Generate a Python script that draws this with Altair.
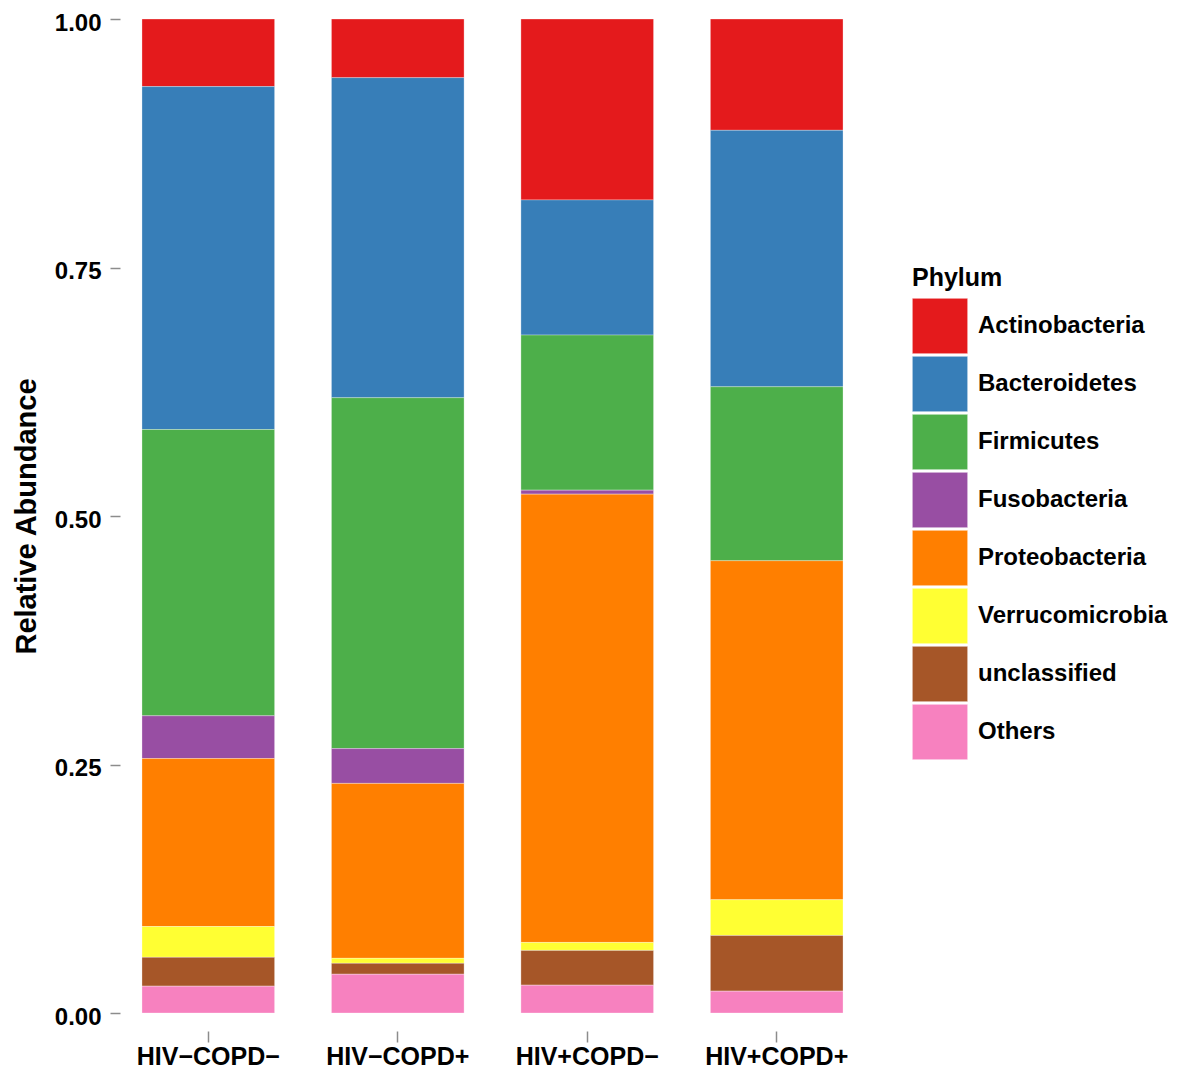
import altair as alt
import pandas as pd

groups = ["HIV−COPD−", "HIV−COPD+", "HIV+COPD−", "HIV+COPD+"]
phyla = ["Actinobacteria", "Bacteroidetes", "Firmicutes", "Fusobacteria",
         "Proteobacteria", "Verrucomicrobia", "unclassified", "Others"]
colors = ["#E41A1C", "#377EB8", "#4DAF4A", "#984EA3",
          "#FF7F00", "#FFFF33", "#A65628", "#F781BF"]

actinobacteria = [0.068, 0.059, 0.182, 0.112]
bacteroidetes = [0.345, 0.322, 0.136, 0.258]
firmicutes = [0.288, 0.353, 0.156, 0.175]
fusobacteria = [0.043, 0.035, 0.004, 0.0]
proteobacteria = [0.169, 0.176, 0.451, 0.341]
verrucomicrobia = [0.031, 0.005, 0.008, 0.036]
unclassified = [0.029, 0.011, 0.035, 0.056]
others = [0.027, 0.039, 0.028, 0.022]

series = [actinobacteria, bacteroidetes, firmicutes, fusobacteria,
          proteobacteria, verrucomicrobia, unclassified, others]

rows = []
for pi, (name, vals) in enumerate(zip(phyla, series)):
    for g, v in zip(groups, vals):
        if v > 0:
            rows.append({"group": g, "Phylum": name, "value": v, "ord": pi})
df = pd.DataFrame(rows)

FONT = "Liberation Sans"

chart = alt.Chart(df).mark_bar(
    stroke="white", strokeWidth=0.5, strokeOpacity=0.6, opacity=1
).encode(
    x=alt.X("group:N", sort=groups,
            scale=alt.Scale(paddingInner=0.3, paddingOuter=0.116),
            axis=alt.Axis(title=None, labelAngle=0, offset=18, tickSize=11,
                          tickColor="#8c8c8c", tickWidth=1.5, domain=False,
                          labelPadding=2, labelFont=FONT, labelFontSize=25,
                          labelFontWeight="bold", labelColor="black")),
    y=alt.Y("value:Q", stack="zero",
            scale=alt.Scale(domain=[0, 1], nice=False),
            axis=alt.Axis(title="Relative Abundance", values=[0, 0.25, 0.5, 0.75, 1],
                          format=".2f", grid=False, domain=False, tickSize=10,
                          tickColor="#8c8c8c", tickWidth=1.5, labelPadding=9,
                          labelOffset=4, labelFlush=False, labelOverlap=False,
                          labelFont=FONT, labelFontSize=24, labelFontWeight="bold",
                          labelColor="black", titleFont=FONT, titleFontSize=29,
                          titleFontWeight="bold", titleColor="black",
                          titlePadding=13)),
    color=alt.Color("Phylum:N", scale=alt.Scale(domain=phyla, range=colors),
                    legend=alt.Legend(
                        title="Phylum", orient="none", legendX=792, legendY=247,
                        symbolType="square", symbolSize=3070,
                        symbolStrokeColor="white", symbolStrokeWidth=0.5,
                        symbolOpacity=1, rowPadding=0, labelOffset=10,
                        labelLimit=0,
                        titleFont=FONT, titleFontSize=25, titleFontWeight="bold",
                        titleColor="black", titlePadding=7,
                        labelFont=FONT, labelFontSize=24, labelFontWeight="bold",
                        labelColor="black", padding=0)),
    order=alt.Order("ord:Q", sort="descending"),
).properties(
    width=745, height=994,
    autosize=alt.AutoSizeParams(type="none"),
    padding={"left": 112, "top": 11, "right": 308, "bottom": 56},
).configure_view(stroke=None)

chart.save("out.html", embed_options={"renderer": "svg", "actions": False})
